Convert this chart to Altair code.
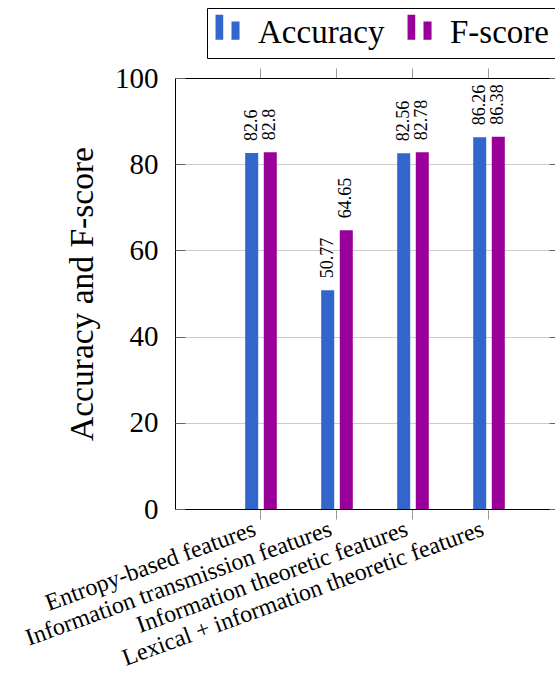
import altair as alt
import pandas as pd

# Feature groups on the x axis and the two scores for each
categories = [
    "Entropy-based features",
    "Information transmission features",
    "Information theoretic features",
    "Lexical + information theoretic features",
]
accuracy = [82.6, 50.77, 82.56, 86.26]
fscore = [82.8, 64.65, 82.78, 86.38]
series = ["Accuracy", "F-score"]
colors = ["#3366cc", "#990099"]
y_ticks = [0, 20, 40, 60, 80, 100]

rows = []
for cat, acc, fs in zip(categories, accuracy, fscore):
    rows.append({"feature": cat, "metric": "Accuracy", "value": acc, "label": f"{acc:g}"})
    rows.append({"feature": cat, "metric": "F-score", "value": fs, "label": f"{fs:g}"})
df = pd.DataFrame(rows)

FONT = "Liberation Serif"
W, H = 380, 431

x_scale = alt.Scale(domain=categories, paddingInner=0.584, paddingOuter=0.792, align=0.583)
xoff_scale = alt.Scale(domain=series, paddingInner=0.3, paddingOuter=0)
y_scale = alt.Scale(domain=[0, 100], nice=False)
color_scale = alt.Scale(domain=series, range=colors)

# two-bar legend glyph, like a small grouped bar pair
bar_pair = "M-1.33,-1.5H-0.69V0.58H-1.33Z M0,-0.94H0.67V0.58H0Z"

base = alt.Chart(df)

bars = base.mark_bar().encode(
    x=alt.X(
        "feature:N", scale=x_scale, sort=categories,
        axis=alt.Axis(
            orient="bottom", title=None, labelAngle=-20, labelAlign="right",
            labelBaseline="middle", labelFont=FONT, labelFontSize=24,
            labelColor="black", labelPadding=9, labelOffset=-6, labelLimit=800,
            labelOverlap=False, tickColor="#999999", tickSize=10,
            domainColor="black", domainWidth=1,
        ),
    ),
    xOffset=alt.XOffset("metric:N", scale=xoff_scale, sort=series),
    y=alt.Y(
        "value:Q", scale=y_scale,
        axis=alt.Axis(
            orient="left", values=y_ticks, title="Accuracy and F-score",
            titleFont=FONT, titleFontSize=33.5, titleFontWeight="normal",
            titleColor="black", titlePadding=15, labelFont=FONT,
            labelFontSize=29, labelColor="black", labelPadding=17,
            ticks=False, domainColor="black", grid=True, gridColor="#cccccc",
        ),
    ),
    color=alt.Color(
        "metric:N", scale=color_scale,
        legend=alt.Legend(
            title=None, orient="none", legendX=32, legendY=-70,
            direction="horizontal", columns=2, symbolType=bar_pair,
            symbolSize=576, symbolStrokeWidth=0, symbolOpacity=1,
            labelFont=FONT, labelFontSize=33, labelColor="black",
            labelOffset=10, columnPadding=22, padding=8,
            strokeColor="black", fillColor="white",
            labelExpr="datum.label == 'F-score' ? datum.label + '\u00a0\u00a0' : datum.label",
        ),
    ),
)

values = base.mark_text(
    angle=270, align="left", baseline="middle", dx=12,
    font=FONT, fontSize=18, color="black",
).encode(
    x=alt.X(
        "feature:N", scale=x_scale, sort=categories,
        axis=alt.Axis(
            orient="top", labels=False, title=None, tickColor="#999999",
            tickSize=10, domainColor="black",
        ),
    ),
    xOffset=alt.XOffset("metric:N", scale=xoff_scale, sort=series),
    y=alt.Y(
        "value:Q", scale=y_scale,
        axis=alt.Axis(
            orient="right", offset=-W, values=y_ticks, labels=False,
            title=None, domain=False, grid=False, tickColor="#666666",
            tickSize=10,
        ),
    ),
    text="label:N",
)

# inner ticks along the right frame
right_ticks = base.mark_bar(opacity=0).encode(
    x=alt.X("feature:N", scale=x_scale, sort=categories, axis=None),
    xOffset=alt.XOffset("metric:N", scale=xoff_scale, sort=series),
    y=alt.Y(
        "value:Q", scale=y_scale,
        axis=alt.Axis(
            orient="left", offset=-(W + 4), values=y_ticks, labels=False,
            title=None, domain=False, grid=False, tickColor="#666666",
            tickSize=10,
        ),
    ),
)

chart = (
    alt.layer(bars, values, right_ticks)
    .resolve_axis(x="independent", y="independent")
    .properties(
        width=W, height=H,
        autosize=alt.AutoSizeParams(type="none"),
        padding={"left": 175, "top": 78, "right": 0, "bottom": 162},
    )
    .configure_view(stroke=None)
)

chart.save("out.html", embed_options={"renderer": "svg", "actions": False})
